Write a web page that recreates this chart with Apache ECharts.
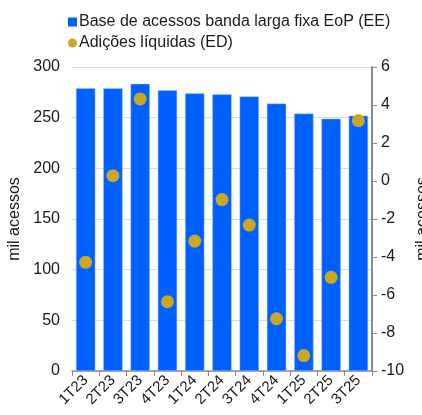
<!DOCTYPE html>
<html>
<head>
<meta charset="utf-8">
<script src="https://cdn.jsdelivr.net/npm/echarts@6/dist/echarts.min.js"></script>
<style>
  html, body { margin: 0; padding: 0; background: #fff; }
  #chart { width: 422px; height: 415px; }
</style>
</head>
<body>
<div id="chart"></div>
<script>
  // trimestres
  var quarters = ['1T23', '2T23', '3T23', '4T23', '1T24', '2T24', '3T24', '4T24', '1T25', '2T25', '3T25']
  // base de acessos (mil) - eixo esquerdo
  var baseAcessos = [279, 279, 283.5, 277, 274, 273, 271, 264, 254, 249, 252]
  // adicoes liquidas (mil) - eixo direito
  var adicoesLiquidas = [-4.28, 0.28, 4.32, -6.35, -3.16, -0.98, -2.32, -7.25, -9.19, -5.07, 3.18]

  var barColor = '#0060ff'
  var dotColor = '#c8a824'
  var axisColor = '#8a8a8a'
  var textColor = '#1a1a1a'
  var font = 'Liberation Sans, Arial, sans-serif'

  var chart = echarts.init(document.getElementById('chart'))
  chart.setOption({
    animation: false,
    textStyle: { fontFamily: font },
    legend: {
      orient: 'vertical',
      left: 63,
      top: 9,
      itemWidth: 9,
      itemHeight: 9,
      itemGap: 5,
      itemStyle: { borderWidth: 0 },
      textStyle: { fontSize: 16, color: textColor, fontFamily: font, padding: [0, 0, 0, -3] },
      data: [
        { name: 'Base de acessos banda larga fixa EoP (EE)', icon: 'rect' },
        { name: 'Adições líquidas (ED)', icon: 'circle', itemStyle: { borderWidth: 0 } }
      ]
    },
    grid: {
      left: 72,
      right: 50,
      top: 67,
      bottom: 44,
      containLabel: false,
      outerBoundsMode: 'none'
    },
    xAxis: {
      type: 'category',
      data: quarters,
      axisLine: { show: true, lineStyle: { color: axisColor, width: 1.5 } },
      axisTick: { show: true, length: 5, lineStyle: { color: axisColor } },
      axisLabel: { interval: 0, rotate: 45, fontSize: 15, color: textColor, margin: 7, fontFamily: font }
    },
    yAxis: [{
      type: 'value',
      min: 0,
      max: 300,
      interval: 50,
      name: 'mil acessos',
      nameLocation: 'middle',
      nameGap: 44,
      nameRotate: 90,
      nameTextStyle: { fontSize: 16, color: textColor, fontFamily: font },
      axisLine: { show: false },
      axisTick: { show: false },
      axisLabel: { fontSize: 16, color: textColor, margin: 12, fontFamily: font },
      splitLine: { show: true, lineStyle: { color: '#dcdcdc', width: 1 } }
    }, {
      type: 'value',
      position: 'right',
      min: -10,
      max: 6,
      interval: 2,
      name: 'mil acessos',
      nameLocation: 'middle',
      nameGap: 40,
      nameRotate: 90,
      nameTextStyle: { fontSize: 16, color: textColor, fontFamily: font },
      axisLine: { show: true, lineStyle: { color: axisColor, width: 2 } },
      axisTick: { show: true, length: 5, lineStyle: { color: axisColor } },
      axisLabel: { fontSize: 16, color: textColor, margin: 9, fontFamily: font },
      splitLine: { show: false }
    }],
    series: [{
      name: 'Base de acessos banda larga fixa EoP (EE)',
      type: 'bar',
      yAxisIndex: 0,
      barCategoryGap: '29%',
      itemStyle: { color: barColor, borderColor: '#a9c8ff', borderWidth: 0.5 },
      data: baseAcessos
    }, {
      name: 'Adições líquidas (ED)',
      type: 'scatter',
      yAxisIndex: 1,
      symbol: 'circle',
      symbolSize: 13,
      itemStyle: { color: dotColor, opacity: 1 },
      z: 5,
      data: adicoesLiquidas
    }]
  })
</script>
</body>
</html>
